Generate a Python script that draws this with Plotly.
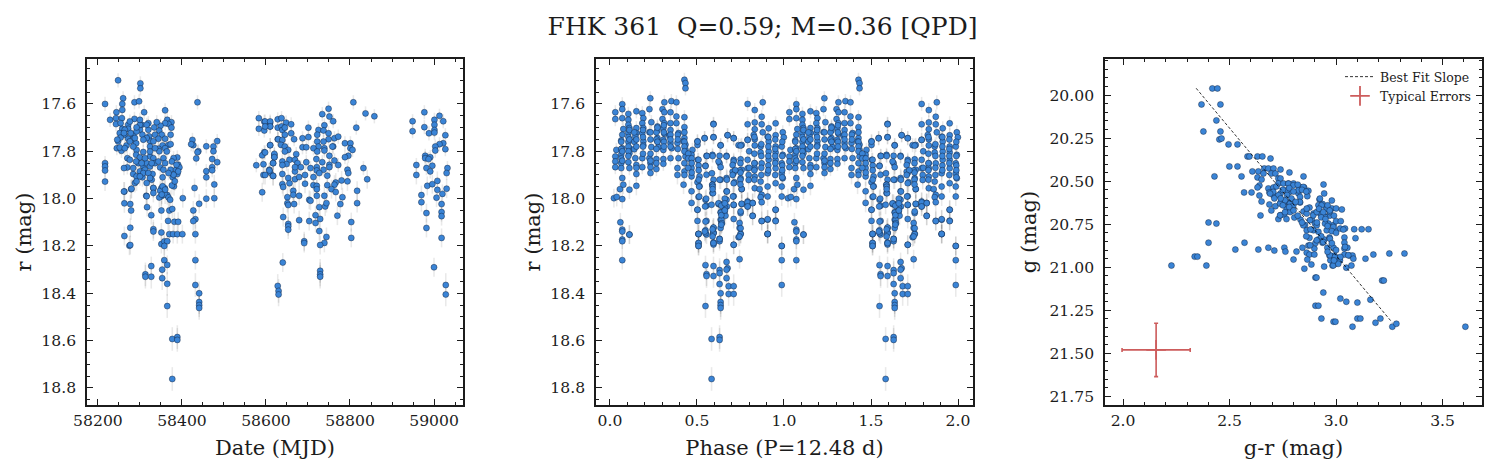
import plotly.graph_objects as go

W, H = 1497, 473

mjd = [
 58217,58248,58301,58301,58260,58287,58298,58437,58258,58258,
 58310,58360,58244,58217,58217,58217,58217,58263,58263,58277,
 58279,58279,58315,58317,58327,58351,58332,58351,58359,58351,
 58365,58370,58377,58367,58382,58391,58277,58332,58427,58432,
 58427,58441,58458,58477,58477,58458,58458,58472,58484,58472,
 58472,58425,58427,58422,58439,58437,58434,58458,58475,58475,
 58484,58263,58275,58277,58332,58351,58370,58379,58389,58401,
 58432,58351,58358,58365,58358,58358,58365,58432,58327,58353,
 58313,58313,58327,58353,58365,58432,58441,58365,58441,58441,
 58441,58377,58389,58389,58377,
 58229,58243,58243,58257,58287,58320,58365,58375,58368,58375,
 58360,58349,58334,58320,58272,58272,58258,58252,58264,58284,
 58304,58300,58306,58292,58346,58336,58322,58352,58373,58360,
 58248,58254,58272,58283,58324,58344,58368,58354,58373,58245,
 58256,58252,58268,58291,58324,58344,58346,58292,58308,58270,
 58276,58291,58300,58324,58332,58356,58360,58389,58380,58270,
 58262,58296,58308,58316,58324,58348,58373,58391,58386,58394,
 58284,58300,58312,58330,58354,58378,58389,58292,58306,58328,
 58288,58316,58381,58376,58332,58280,58262,58348,58354,58316,
 58346,58360,58368,58372,58402,58430,
 58264,58278,58300,58316,58332,58276,58264,58284,58308,58336,
 58360,58364,58324,58312,58291,58304,58284,58336,58328,58344,
 58376,58387,58391,58380,58308,58320,58356,58368,58324,58292,
 58300,58383,58360,58352,58332,58254,58276,58300,58340,58316,
 58292,58262,58246,58288,
 58583,58596,58610,58583,58596,58610,58628,58628,
 58610,58628,58596,58591,58620,58620,58577,58594,58617,58608,
 58610,58617,58594,58591,58628,
 58598,58610,58610,58598,58637,58648,58660,58637,58639,58645,
 58645,58660,58667,58687,58701,58701,58734,58749,58751,58760,
 58808,58837,58858,58815,58739,58725,58737,58749,58722,58763,
 58772,58749,58722,58737,58788,58801,58760,58758,58725,58713,
 58739,58739,58801,58806,58722,58610,58629,58639,58636,58645,
 58653,58645,58687,58696,58672,58620,58620,58598,58656,58639,
 58649,58639,58669,58675,58617,58696,58720,58734,58751,58763,
 58751,58772,58796,58788,58706,58721,58737,58751,58721,58727,
 58669,58683,58669,58608,58617,58598,58639,58653,58669,58679,
 58693,58713,58746,58794,58796,58832,58841,58780,58794,58766,
 58763,58746,58639,58641,58656,58693,58713,58721,58721,58665,
 58665,58679,58651,58721,58739,58756,58766,58782,58817,58817,
 58703,58706,58651,58653,58667,58727,58741,58744,58777,58641,
 58679,58718,58729,58703,58718,58770,58803,58653,58653,58653,
 58727,58744,58739,58729,58691,58691,58803,
 58949,58949,58977,58977,59013,59022,59001,59001,59001,58988,
 59001,59027,59022,59013,59003,59003,59027,58979,58979,58991,
 58987,58958,58958,58982,58996,58991,59032,59030,58984,58996,
 59008,59008,59020,59030,59006,58970,58970,59018,59018,59018,
 58982,58982,59018,59000,59028,59028,
 58640,58630,58630,58729,58729,58729,
]
r_by_date = [
 17.600,17.500,17.513,17.534,17.576,17.593,17.589,17.593,17.600,17.625,
 17.635,17.627,17.635,17.850,17.864,17.881,17.928,17.970,18.020,18.023,
 18.050,17.960,17.988,18.036,18.070,18.050,17.956,17.956,17.956,17.990,
 17.985,18.050,18.044,18.094,18.098,18.098,18.123,18.129,18.050,18.087,
 18.095,18.022,18.000,17.998,17.940,17.910,17.884,17.833,17.846,17.867,
 17.880,17.752,17.774,17.770,17.800,17.804,17.830,17.779,17.780,17.800,
 17.757,18.158,18.199,18.196,18.139,18.143,18.150,18.150,18.150,18.150,
 18.150,18.192,18.181,18.180,18.200,18.260,18.280,18.260,18.285,18.300,
 18.320,18.330,18.330,18.336,18.360,18.365,18.400,18.454,18.437,18.450,
 18.462,18.593,18.585,18.597,18.762,
 17.667,17.660,17.685,17.660,17.663,17.681,17.667,17.677,17.685,17.700,
 17.681,17.692,17.699,17.709,17.688,17.705,17.705,17.723,17.730,17.730,
 17.688,17.709,17.730,17.716,17.713,17.730,17.737,17.730,17.730,17.747,
 17.758,17.742,17.747,17.751,17.756,17.747,17.773,17.775,17.770,17.787,
 17.798,17.784,17.775,17.766,17.780,17.789,17.800,17.794,17.803,17.829,
 17.836,17.815,17.826,17.822,17.829,17.829,17.850,17.826,17.829,17.868,
 17.871,17.850,17.864,17.850,17.864,17.868,17.878,17.857,17.878,17.868,
 17.896,17.885,17.878,17.896,17.910,17.910,17.896,17.906,17.910,17.920,
 17.934,17.934,17.948,17.944,17.955,17.958,17.970,17.967,17.948,17.990,
 17.995,17.983,17.995,18.005,17.998,17.955,
 17.709,17.723,17.688,17.744,17.758,17.758,17.787,17.780,17.751,17.787,
 17.787,17.801,17.801,17.829,17.843,17.850,17.871,17.850,17.850,17.843,
 17.843,17.857,17.885,17.899,17.892,17.892,17.878,17.892,17.913,17.927,
 17.906,17.927,17.962,17.983,17.976,17.681,17.674,17.667,17.677,17.688,
 17.699,17.723,17.751,17.744,
 17.660,17.675,17.680,17.705,17.712,17.695,17.665,17.700,
 17.774,17.749,17.804,17.817,17.815,17.825,17.859,17.855,17.850,17.878,
 17.890,17.904,17.900,17.973,18.369,
 17.674,17.674,17.695,17.695,17.660,17.679,17.686,17.695,17.710,17.700,
 17.730,17.724,17.749,17.745,17.740,17.700,17.643,17.620,17.653,17.673,
 17.593,17.640,17.652,17.700,17.690,17.710,17.712,17.724,17.730,17.745,
 17.738,17.749,17.759,17.759,17.766,17.766,17.780,17.780,17.780,17.787,
 17.787,17.797,17.787,17.794,17.801,17.774,17.749,17.752,17.773,17.780,
 17.794,17.801,17.783,17.783,17.812,17.811,17.825,17.805,17.836,17.843,
 17.854,17.858,17.836,17.850,17.850,17.846,17.833,17.846,17.819,17.839,
 17.857,17.858,17.819,17.825,17.871,17.867,17.878,17.867,17.881,17.892,
 17.885,17.867,17.867,17.881,17.904,17.900,17.896,17.913,17.918,17.909,
 17.900,17.909,17.903,17.878,17.892,17.871,17.918,17.923,17.927,17.932,
 17.941,17.943,17.939,17.951,17.935,17.937,17.943,17.946,17.960,17.967,
 17.984,17.988,17.994,17.988,17.988,17.960,17.972,17.994,17.967,18.019,
 18.005,18.009,18.019,18.027,18.023,18.036,18.033,18.019,18.023,18.078,
 18.091,18.070,18.086,18.095,18.103,18.072,18.099,18.107,18.117,18.131,
 18.137,18.162,18.187,18.196,18.180,18.188,18.166,
 17.673,17.715,17.635,17.698,17.650,17.673,17.667,17.688,17.710,17.724,
 17.721,17.732,17.766,17.770,17.780,17.797,17.791,17.819,17.829,17.825,
 17.833,17.858,17.900,17.871,17.861,17.885,17.871,17.892,17.946,17.939,
 17.925,17.963,17.980,17.958,17.996,17.985,18.015,18.023,18.057,18.074,
 18.061,18.124,18.166,18.290,18.365,18.405,
 18.270,18.390,18.405,18.305,18.320,18.330,
]

phase = [
 0.428,0.434,0.434,0.232,0.071,0.313,0.353,0.382,0.031,0.071,
 0.227,0.152,0.186,0.302,0.348,0.313,0.031,0.071,0.106,0.106,
 0.192,0.186,0.238,0.302,0.313,0.348,0.382,0.428,0.106,0.112,
 0.077,0.152,0.192,0.273,0.307,0.428,0.382,0.394,0.071,0.106,
 0.152,0.186,0.227,0.273,0.313,0.342,0.428,0.503,0.544,0.595,
 0.595,0.676,0.711,0.065,0.112,0.146,0.192,0.192,0.273,0.273,
 0.307,0.348,0.388,0.423,0.434,0.503,0.636,0.757,0.739,0.791,
 0.037,0.071,0.112,0.140,0.238,0.279,0.307,0.355,0.434,0.474,
 0.065,0.031,0.112,0.146,0.186,0.227,0.267,0.348,0.307,0.394,
 0.434,0.469,0.031,0.031,0.065,0.106,0.152,0.186,0.233,0.307,
 0.267,0.233,0.233,0.112,0.065,0.152,0.388,0.388,0.428,0.428,
 0.469,0.505,0.549,0.589,0.555,0.630,0.670,0.630,0.711,
 0.071,0.058,0.077,0.112,0.152,0.423,0.428,0.469,0.515,0.555,
 0.503,0.515,0.595,0.636,0.589,0.670,0.711,0.757,0.716,0.757,
 0.023,0.039,0.071,0.469,0.509,0.469,0.589,0.670,0.711,0.549,
 0.555,0.624,0.711,0.670,0.757,0.791,0.820,0.791,
 0.503,0.636,0.664,0.659,0.751,0.820,0.711,0.636,0.664,0.503,
 0.555,0.641,0.872,0.906,0.952,0.952,0.060,0.071,0.112,0.071,
 0.509,0.549,0.555,0.595,0.595,0.636,0.745,0.751,0.906,
 0.071,0.112,0.071,0.071,0.509,0.509,0.509,0.549,0.595,0.595,
 0.595,0.630,0.630,0.711,0.739,0.751,0.906,0.987,0.987,0.987,
 0.549,0.595,0.630,0.670,0.676,0.670,0.745,0.630,0.555,0.555,
 0.595,0.670,0.630,0.682,0.711,0.636,0.682,0.711,0.549,0.636,
 0.636,0.636,0.584,0.630,0.630,0.584,
 0.791,0.878,0.832,0.872,0.791,0.832,0.872,0.952,0.832,0.912,
 0.878,0.952,0.791,0.826,0.832,0.906,0.993,0.999,0.751,0.832,
 0.866,0.912,0.952,0.987,0.866,0.912,0.952,0.993,0.711,0.705,
 0.751,0.791,0.832,0.872,0.912,0.952,0.987,0.705,0.745,0.791,
 0.832,0.906,0.952,0.987,0.751,0.797,0.797,0.832,0.866,0.952,
 0.993,0.832,0.860,0.906,0.987,0.757,0.711,0.872,0.906,0.866,
 0.987,0.757,0.791,0.820,0.791,0.872,0.711,0.952,0.820,0.906,
 0.872,0.952,0.751,0.745,0.751,0.906,0.745,0.711,0.987,
 0.595,0.595,0.503,0.544,0.636,0.676,0.711,0.624,0.636,0.590,
 0.670,0.557,0.549,0.509,0.586,0.630,0.672,0.588,0.592,0.672,
 0.707,0.630,0.672,0.638,0.661,0.641,0.643,0.595,0.549,0.545,
 0.595,0.630,0.595,0.509,0.509,0.509,0.503,0.553,0.547,0.584,
 0.624,0.513,0.513,
 0.065,0.065,0.065,0.071,0.071,0.106,0.106,0.106,0.106,0.106,
 0.112,0.112,0.140,0.140,0.152,0.152,0.152,0.190,0.190,0.190,
 0.190,0.233,0.233,0.233,0.233,0.267,0.267,0.267,0.267,0.273,
 0.273,0.310,0.310,0.310,0.310,0.348,0.348,0.348,0.348,0.390,
 0.390,0.390,0.428,0.428,0.428,0.428,0.450,0.450,0.450,0.470,
 0.470,0.470,0.510,0.510,0.510,0.590,0.590,0.590,0.590,0.640,
 0.640,0.640,0.660,0.660,0.660,0.800,0.800,0.830,0.830,0.830,
 0.830,0.830,0.870,0.870,0.870,0.870,0.910,0.910,0.910,0.910,
 0.910,0.950,0.950,0.950,0.950,0.950,0.990,0.990,0.990,0.990,
 0.990,0.750,0.750,0.750,0.750,0.720,0.705,
]
r_by_phase = [
 17.498,17.512,17.534,17.576,17.601,17.593,17.588,17.593,17.635,17.622,
 17.622,17.631,17.639,17.622,17.635,17.635,17.664,17.660,17.642,17.667,
 17.660,17.681,17.677,17.664,17.681,17.681,17.653,17.656,17.688,17.702,
 17.706,17.702,17.702,17.695,17.702,17.698,17.681,17.723,17.730,17.723,
 17.723,17.723,17.719,17.712,17.726,17.735,17.744,17.758,17.744,17.740,
 17.684,17.732,17.744,17.754,17.751,17.737,17.758,17.774,17.744,17.758,
 17.751,17.765,17.765,17.758,17.772,17.773,17.774,17.773,17.774,17.751,
 17.794,17.787,17.787,17.791,17.782,17.782,17.794,17.787,17.794,17.794,
 17.815,17.822,17.808,17.829,17.829,17.829,17.833,17.829,17.833,17.829,
 17.822,17.815,17.843,17.867,17.850,17.846,17.858,17.867,17.850,17.853,
 17.875,17.867,17.892,17.871,17.871,17.896,17.871,17.900,17.850,17.885,
 17.871,17.836,17.861,17.815,17.819,17.819,17.819,17.850,17.836,
 17.913,17.960,17.941,17.962,17.946,17.941,17.900,17.906,17.906,17.899,
 17.931,17.948,17.920,17.920,17.941,17.913,17.892,17.878,17.931,17.960,
 17.998,17.993,18.002,17.969,17.993,18.018,17.976,17.969,17.990,18.005,
 18.030,18.023,18.027,18.005,18.023,18.012,18.018,18.033,
 18.047,18.058,18.033,18.054,18.061,18.072,18.086,18.089,18.072,18.094,
 18.094,18.103,18.094,18.089,18.047,18.093,18.100,18.131,18.152,18.173,
 18.149,18.134,18.152,18.124,18.145,18.124,18.124,18.148,18.149,
 18.139,18.152,18.180,18.260,18.150,18.188,18.200,18.146,18.143,18.185,
 18.194,18.170,18.180,18.195,18.163,18.150,18.150,18.200,18.260,18.365,
 18.281,18.285,18.302,18.268,18.294,18.300,18.256,18.315,18.319,18.327,
 18.327,18.336,18.361,18.370,18.370,18.400,18.403,18.403,18.454,18.437,
 18.450,18.462,18.593,18.585,18.597,18.762,
 17.600,17.593,17.626,17.654,17.686,17.678,17.686,17.682,17.707,17.703,
 17.720,17.732,17.752,17.731,17.749,17.738,17.720,17.741,17.776,17.775,
 17.780,17.759,17.780,17.780,17.805,17.801,17.805,17.815,17.843,17.858,
 17.834,17.836,17.851,17.851,17.836,17.836,17.851,17.886,17.881,17.872,
 17.872,17.893,17.872,17.893,17.914,17.900,17.921,17.907,17.928,17.935,
 17.914,17.956,17.960,17.949,17.949,17.959,17.935,17.984,17.991,17.994,
 17.991,18.022,18.016,18.019,18.033,18.015,18.026,18.047,18.073,18.087,
 18.095,18.095,18.054,18.103,18.125,18.149,18.160,18.195,18.200,
 17.686,17.741,17.759,17.745,17.775,17.732,17.745,17.843,17.867,17.820,
 17.822,17.820,17.862,17.836,17.893,17.920,17.920,17.942,17.977,17.970,
 17.991,18.022,18.033,18.059,18.040,18.090,18.104,18.122,18.097,18.139,
 18.146,18.171,18.188,18.149,18.188,18.200,18.047,18.000,18.033,18.026,
 18.020,17.991,17.949,
 17.760,17.790,17.830,17.800,17.840,17.740,17.760,17.780,17.800,17.820,
 17.710,17.750,17.720,17.760,17.750,17.780,17.870,17.710,17.740,17.780,
 17.810,17.720,17.750,17.810,17.840,17.720,17.750,17.790,17.850,17.700,
 17.760,17.690,17.720,17.760,17.780,17.710,17.730,17.750,17.780,17.730,
 17.750,17.790,17.720,17.760,17.780,17.800,17.810,17.830,17.870,17.830,
 17.850,17.890,17.860,17.880,17.920,17.950,17.960,18.130,18.160,18.070,
 18.030,18.110,18.000,18.020,18.050,17.800,17.870,17.740,17.810,17.850,
 17.880,17.920,17.770,17.820,17.870,17.900,17.740,17.780,17.820,17.860,
 17.880,17.750,17.790,17.820,17.850,17.900,17.760,17.820,17.860,17.880,
 17.910,17.850,17.890,17.920,17.940,17.880,17.900,
]

g_minus_r = [
 2.419,2.443,2.368,2.457,2.438,2.377,2.457,2.452,2.462,2.495,
 2.537,2.584,2.593,2.631,2.654,2.692,2.499,2.537,2.429,2.556,
 2.607,2.635,2.663,2.682,2.706,2.739,2.781,2.847,2.941,2.659,
 2.696,2.715,2.631,2.650,2.729,2.739,2.729,2.753,2.776,2.800,
 2.828,2.850,2.870,2.640,2.631,2.682,2.706,2.568,2.603,2.687,
 2.706,2.640,2.650,2.739,2.781,2.823,2.865,2.831,2.687,2.715,
 2.739,2.765,2.696,2.645,2.781,2.792,2.831,2.781,2.875,2.847,
 2.729,2.739,2.757,2.767,2.804,2.833,2.862,2.886,2.922,2.944,
 2.980,2.917,2.937,2.956,2.980,3.000,3.027,2.894,2.925,2.944,
 2.969,2.854,2.901,2.964,2.988,3.000,3.022,2.995,3.019,3.042,
 3.085,3.120,3.152,2.401,2.438,2.894,2.917,2.956,2.875,2.917,
 2.944,2.969,3.039,3.091,
 2.401,2.570,2.527,2.635,2.682,2.710,2.757,2.762,2.814,2.842,
 2.870,2.898,2.903,2.862,2.875,2.898,2.800,2.865,2.884,2.336,
 2.349,2.227,2.391,2.936,2.959,2.988,2.969,2.992,2.973,2.992,
 3.016,2.997,2.983,2.944,3.039,3.039,3.053,3.039,3.063,3.077,
 3.081,3.138,3.175,3.250,3.321,3.048,3.072,2.851,2.903,2.908,
 2.940,3.216,3.224,3.020,3.048,3.100,3.161,2.903,2.917,2.931,
 2.988,2.997,3.100,3.114,3.185,3.208,3.077,3.264,3.283,3.607,
 2.776,2.799,2.846,2.768,2.823,2.705,2.729,2.690,2.760,2.784,
 2.799,2.737,2.768,2.784,2.737,2.830,2.862,2.893,2.932,2.956,
 2.971,2.948,2.909,2.924,2.877,2.846,2.862,2.909,2.948,2.987,
 3.034,2.909,2.940,2.971,2.878,2.971,2.995,3.018,2.987,3.042,
 3.057,
 2.720,2.750,2.780,2.800,2.820,2.840,2.860,2.710,2.740,2.770,
 2.790,2.810,2.750,2.780,2.800,2.760,2.920,2.940,2.960,2.970,
 2.990,2.930,2.950,2.910,2.960,2.980,3.000,2.930,2.980,3.000,
 3.020,2.960,3.010,2.990,2.880,2.840,2.860,2.820,
]
g_mag = [
 19.961,19.961,20.054,20.054,20.147,20.211,20.211,20.257,20.252,20.286,
 20.286,20.356,20.356,20.356,20.356,20.368,20.414,20.414,20.472,20.472,
 20.443,20.443,20.426,20.426,20.426,20.432,20.449,20.472,20.519,20.455,
 20.455,20.455,20.478,20.490,20.484,20.484,20.513,20.513,20.513,20.513,
 20.533,20.536,20.556,20.525,20.536,20.542,20.536,20.565,20.565,20.565,
 20.583,20.583,20.618,20.571,20.562,20.571,20.587,20.591,20.635,20.645,
 20.626,20.620,20.670,20.699,20.630,20.610,20.624,20.672,20.653,20.676,
 20.720,20.697,20.693,20.720,20.711,20.723,20.688,20.723,20.606,20.571,
 20.612,20.639,20.633,20.658,20.658,20.658,20.664,20.688,20.688,20.701,
 20.701,20.755,20.746,20.746,20.755,20.732,20.732,20.785,20.775,20.775,
 20.779,20.779,20.779,20.740,20.746,20.785,20.794,20.785,20.829,20.839,
 20.839,20.827,20.827,20.831,
 20.857,20.857,20.897,20.897,20.886,20.903,20.886,20.909,20.909,20.886,
 20.874,20.891,20.859,20.915,20.926,20.926,20.955,20.955,20.984,20.938,
 20.938,20.990,20.990,20.857,20.886,20.886,20.932,20.932,20.959,20.955,
 20.955,20.979,20.990,20.996,20.857,20.891,20.886,20.926,20.932,20.932,
 20.950,20.950,20.926,20.920,20.920,21.002,20.990,21.008,21.060,21.060,
 21.147,21.077,21.077,21.182,21.200,21.205,21.188,21.223,21.223,21.298,
 21.316,21.316,21.298,21.298,21.322,21.298,21.345,21.345,21.328,21.345,
 20.514,20.524,20.533,20.553,20.553,20.562,20.582,20.572,20.611,20.630,
 20.640,20.630,20.659,20.679,20.698,20.620,20.659,20.698,20.640,20.659,
 20.679,20.708,20.679,20.601,20.727,20.756,20.785,20.756,20.746,20.766,
 20.781,20.843,20.853,20.834,20.872,20.930,20.940,20.960,20.989,20.882,
 20.930,
 20.530,20.550,20.540,20.560,20.520,20.550,20.560,20.600,20.600,20.580,
 20.600,20.620,20.640,20.650,20.670,20.680,20.660,20.680,20.640,20.670,
 20.700,20.710,20.720,20.740,20.760,20.790,20.800,20.820,20.860,20.900,
 20.940,20.910,20.980,20.960,20.780,20.740,20.820,20.700,
]

slope_x = [2.343, 3.263]
slope_y = [19.96, 21.32]
typical_x = [2.155]
typical_y = [21.48]
typical_dx = [0.16]
typical_dy = [0.155]

BLUE = "#3a84d6"
EDGE = "rgba(10,20,40,0.8)"
INK = "#1c1c1c"
SERIF = "DejaVu Serif"

ML, MR, MT, MB = 87, 15, 59, 68
PW, PH = W - ML - MR, H - MT - MB


def xdom(a, b):
    return [(a - ML) / PW, (b - ML) / PW]


def band(mag):
    if mag < 17.9:
        return 0.03
    if mag < 18.3:
        return 0.04
    return 0.05


def points(x, y, xa, ya, err=None):
    return go.Scatter(
        x=x, y=y, mode="markers", xaxis=xa, yaxis=ya, showlegend=False, hoverinfo="skip",
        marker=dict(color=BLUE, size=6, line=dict(color=EDGE, width=0.5)),
        error_y=None if err is None else dict(type="data", array=err, visible=True, width=0,
                                              thickness=1.6, color="rgba(0,0,0,0.085)"),
    )


fig = go.Figure()
fig.add_trace(points(mjd, r_by_date, "x", "y", [band(v) for v in r_by_date]))
fig.add_trace(points(phase + [p + 1 for p in phase], r_by_phase + r_by_phase, "x2", "y2",
                     [band(v) for v in r_by_phase + r_by_phase]))
fig.add_trace(points(g_minus_r, g_mag, "x3", "y3"))
fig.add_trace(go.Scatter(x=slope_x, y=slope_y, mode="lines", xaxis="x3", yaxis="y3",
                         name="Best Fit Slope", hoverinfo="skip",
                         line=dict(color="black", width=0.8, dash="3px,2px")))
fig.add_trace(go.Scatter(x=typical_x, y=typical_y, mode="markers", xaxis="x3", yaxis="y3",
                         name="Typical Errors", hoverinfo="skip",
                         marker=dict(symbol="cross-thin-open", size=14, color="#cd5c5c",
                                     line=dict(color="#cd5c5c", width=1.8)),
                         error_x=dict(type="data", array=typical_dx, visible=True, width=2,
                                      thickness=1.6, color="#cd5c5c"),
                         error_y=dict(type="data", array=typical_dy, visible=True, width=2,
                                      thickness=1.6, color="#cd5c5c")))


def axis(lo, hi, tick0, dtick, minor, title, standoff, dom, fmt, anchor, label_gap):
    return dict(
        domain=dom, range=[lo, hi], tick0=tick0, dtick=dtick, showgrid=False, zeroline=False,
        showline=True, linecolor=INK, linewidth=1.6, mirror="allticks", automargin=False,
        ticks="inside", ticklen=6, tickwidth=1.4, tickcolor=INK, ticklabelstandoff=label_gap,
        minor=dict(dtick=minor, tick0=tick0, ticks="inside", ticklen=3, tickwidth=1.1, tickcolor=INK),
        tickfont=dict(family=SERIF, size=15.6, color=INK),
        title=dict(text=title, font=dict(family=SERIF, size=21, color=INK), standoff=standoff),
        tickformat=fmt, anchor=anchor,
    )


ydom = [0, 1]
fig.update_layout(
    width=W, height=H, margin=dict(l=ML, r=MR, t=MT, b=MB),
    paper_bgcolor="white", plot_bgcolor="white",
    font=dict(family=SERIF, color=INK),
    title=dict(text="FHK 361\u00a0\u00a0Q=0.59; M=0.36 [QPD]", x=762.5 / W, xanchor="center",
               y=1 - 26 / H, yanchor="middle", font=dict(family=SERIF, size=25, color=INK)),
    xaxis=axis(58174, 59069, 58200, 200, 50, "Date (MJD)", 12, xdom(87, 463), "d", "y", 0),
    yaxis=axis(18.872, 17.41, 17.6, 0.2, 0.05, "r (mag)", 4, ydom, ".1f", "x", 6),
    xaxis2=axis(-0.08, 2.086, 0, 0.5, 0.1, "Phase (P=12.48 d)", 12, xdom(596, 973), ".1f", "y2", 0),
    yaxis2=axis(18.872, 17.41, 17.6, 0.2, 0.05, "r (mag)", 4, ydom, ".1f", "x2", 6),
    xaxis3=axis(1.915, 3.685, 2, 0.5, 0.1, "g-r (mag)", 12, xdom(1105, 1482), ".1f", "y3", 0),
    yaxis3=axis(21.80, 19.79, 20, 0.25, 0.05, "g (mag)", 7, ydom, ".2f", "x3", 6),
    legend=dict(x=(1476 - ML) / PW, xanchor="right", y=1 - (62 - MT) / PH, yanchor="top",
                bgcolor="rgba(0,0,0,0)", font=dict(family=SERIF, size=12.5, color=INK), borderwidth=0),
)

fig.write_html("out.html", config={"displayModeBar": False},
               post_script="document.body.style.margin='0';")
